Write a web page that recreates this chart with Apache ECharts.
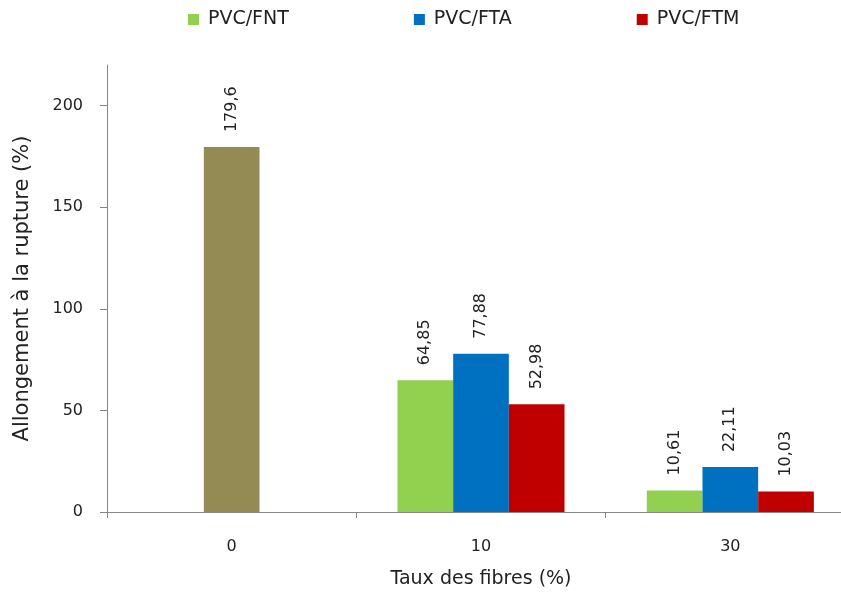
<!DOCTYPE html>
<html>
<head>
<meta charset="utf-8">
<script src="https://cdn.jsdelivr.net/npm/echarts@6/dist/echarts.min.js"></script>
<style>html,body{margin:0;padding:0;background:#fff;overflow:hidden;width:841px;height:596px}#c{width:856px;height:596px}</style>
</head>
<body>
<div id="c"></div>
<script>
const categories = ['0', '10', '30'];
const seriesNames = ['PVC/FNT', 'PVC/FTA', 'PVC/FTM'];
const pvcValues = [179.6, '-', '-'];
const fntValues = ['-', 64.85, 10.61];
const ftaValues = ['-', 77.88, 22.11];
const ftmValues = ['-', 52.98, 10.03];
const yTicks = [0, 50, 100, 150, 200];

const FONT = '"DejaVu Sans", sans-serif';
const fmt = p => String(p.value).replace('.', ',');
const lbl = {
  show: true, position: 'top', rotate: 90, distance: 15,
  formatter: fmt, color: '#222', fontSize: 16, fontFamily: FONT,
  align: 'left', verticalAlign: 'middle'
};

const chart = echarts.init(document.getElementById('c'));
chart.setOption({
  animation: false,
  textStyle: { fontFamily: FONT },
  legend: {
    data: seriesNames, left: 188, top: 10, padding: 0, itemWidth: 11, itemHeight: 11,
    itemGap: 125, icon: 'rect',
    textStyle: { fontSize: 19, color: '#222', fontFamily: FONT, padding: [0, 0, 0, 4] }
  },
  grid: { left: 107, top: 65, right: 1, height: 447 },
  xAxis: {
    type: 'category', data: categories,
    name: 'Taux des fibres (%)', nameLocation: 'middle', nameGap: 58,
    nameTextStyle: { fontSize: 19, color: '#222', fontFamily: FONT },
    axisLine: { lineStyle: { color: '#868686' } },
    axisTick: { show: true, length: 6, lineStyle: { color: '#868686' } },
    axisLabel: { fontSize: 16, color: '#222', margin: 27, fontFamily: FONT }
  },
  yAxis: {
    type: 'value', min: 0, max: 220, interval: 50,
    name: 'Allongement à la rupture (%)', nameLocation: 'middle', nameGap: 74, nameRotate: 90,
    nameTextStyle: { fontSize: 21, color: '#222', fontFamily: FONT },
    axisLine: { show: true, lineStyle: { color: '#868686' } },
    axisTick: { show: true, length: 7, lineStyle: { color: '#868686' }, customValues: yTicks },
    axisLabel: { fontSize: 16, color: '#222', margin: 24, fontFamily: FONT, customValues: yTicks },
    splitLine: { show: false }
  },
  series: [
    { name: 'PVC/FNT', type: 'bar', data: fntValues, itemStyle: { color: '#92D050' }, label: lbl, barGap: '0%', barCategoryGap: '33%' },
    { name: 'PVC', type: 'bar', stack: 'mid', data: pvcValues, itemStyle: { color: '#948A54' }, label: lbl },
    { name: 'PVC/FTA', type: 'bar', stack: 'mid', data: ftaValues, itemStyle: { color: '#0070C0' }, label: lbl },
    { name: 'PVC/FTM', type: 'bar', data: ftmValues, itemStyle: { color: '#C00000' }, label: lbl }
  ]
});
</script>
</body>
</html>
